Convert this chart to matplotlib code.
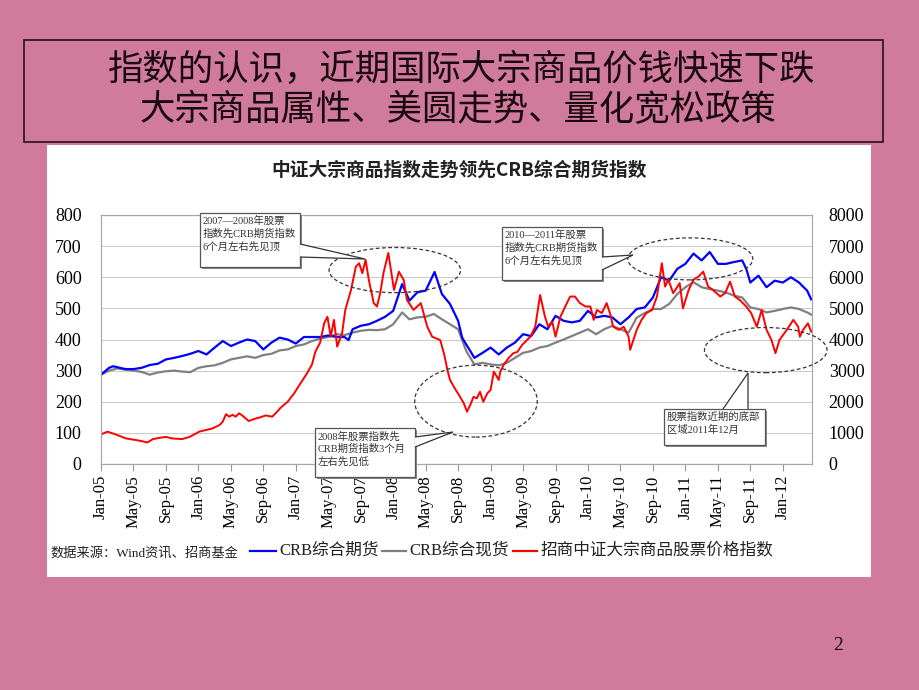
import matplotlib.pyplot as plt
from matplotlib.patches import Rectangle, Ellipse, Polygon
from matplotlib.lines import Line2D

plt.rcParams['font.family'] = ['Liberation Serif', 'Noto Sans CJK SC']

PINK = '#d07a9c'

# month index (0 = Jan-05)
blue_m = [0, 1, 1.5, 2, 3, 4, 5, 6, 7, 8, 9, 10, 11, 12, 13, 14, 15, 16, 17, 18, 19, 20, 21, 22,
          23, 24, 25, 26, 27, 28, 29, 30, 30.5, 31, 32, 33, 34, 35, 36, 37.1, 38, 39, 40, 41.1, 42,
          43, 44, 44.5, 45, 45.5, 46, 47, 48, 49, 50, 51, 52, 53, 54, 55, 56, 57, 58, 59, 60, 61,
          62, 63, 64, 65, 66, 67, 68, 69, 70, 71, 72, 73, 74, 75, 76, 77, 78, 79, 79.5, 80, 81, 82,
          83, 84, 85, 86, 87, 87.5]
blue_v = [287, 309, 314, 311, 305, 305, 309, 318, 322, 336, 341, 347, 354, 363, 352, 374, 395, 379,
          390, 400, 395, 368, 390, 406, 400, 387, 408, 408, 408, 413, 408, 408, 398, 433, 444, 449,
          460, 473, 492, 578, 525, 552, 557, 617, 546, 514, 460, 406, 384, 363, 341, 357, 374, 352,
          374, 390, 417, 411, 449, 433, 476, 460, 455, 460, 492, 471, 476, 471, 449, 471, 498, 503,
          535, 600, 589, 627, 643, 676, 654, 681, 643, 643, 649, 654, 627, 583, 605, 568, 589, 583,
          600, 583, 557, 529]

grey_m = [0, 1, 2, 3, 4, 5, 6, 7, 8, 9, 10, 11, 12, 13, 14, 15, 16, 17, 18, 19, 20, 21, 22, 23,
          24, 25, 26, 27, 28, 29, 30, 31, 32, 33, 34, 35, 36, 37.1, 38, 39, 40, 41, 42, 43, 44, 45,
          46, 47, 48, 49, 50, 51, 52, 53, 54, 55, 56, 57, 58, 59, 60, 61, 62, 63, 64, 65, 66, 67,
          68, 69, 70, 71, 72, 73, 74, 75, 76, 77, 78, 79, 80, 81, 82, 83, 84, 85, 86, 87, 87.5]
grey_v = [287, 300, 307, 303, 300, 296, 287, 294, 298, 300, 297, 295, 309, 314, 317, 325, 336, 341,
          346, 341, 350, 354, 365, 368, 379, 384, 395, 403, 408, 417, 414, 422, 428, 431, 430, 433,
          449, 487, 465, 471, 473, 482, 465, 449, 433, 363, 320, 325, 320, 317, 325, 341, 357, 363,
          374, 379, 390, 400, 411, 422, 433, 417, 433, 444, 433, 422, 470, 485, 498, 498, 514, 546,
          568, 584, 568, 562, 557, 551, 541, 535, 503, 498, 487, 492, 498, 503, 498, 487, 480]

red_m = [0, 0.8, 1.8, 3.1, 4.3, 5.1, 5.7, 6.4, 7.2, 8.0, 8.8, 10.0, 10.9, 11.7, 12.1, 12.9, 13.7,
         14.6, 15.0, 15.4, 15.8, 16.2, 16.6, 17.0, 17.4, 17.8, 18.2, 18.9, 19.5, 20.3, 21.1, 21.7,
         22.1, 23.0, 23.8, 24.6, 25.4, 26.0, 26.4, 27.0, 27.5, 27.9, 28.3, 28.7, 29.1, 29.7, 30.1,
         30.8, 31.4, 31.8, 32.2, 32.6, 33.0, 33.6, 34.0, 34.4, 34.8, 35.4, 36.1, 36.7, 37.3, 37.7,
         38.5, 39.4, 40.2, 40.8, 41.8, 42.3, 42.7, 43.0, 43.7, 44.1, 44.7, 45.1, 45.5, 45.9, 46.3,
         46.7, 47.1, 47.6, 48.0, 48.4, 49.0, 49.2, 49.6, 50.2, 50.8, 51.3, 51.9, 52.9, 53.5, 54.1,
         54.7, 55.1, 55.6, 56.0, 56.6, 57.2, 57.8, 58.4, 59.0, 59.7, 60.3, 60.7, 61.1, 61.7, 62.3,
         62.7, 63.1, 63.8, 64.4, 65.0, 65.2, 65.6, 66.0, 66.6, 67.2, 67.9, 68.5, 69.1, 69.5, 69.9,
         70.5, 71.3, 71.7, 72.4, 73.0, 73.6, 74.2, 74.8, 75.4, 76.3, 76.9, 77.5, 78.1, 78.7, 79.5,
         80.1, 80.8, 81.4, 82.0, 82.6, 83.1, 83.6, 84.5, 85.3, 85.9, 86.1, 86.5, 87.1, 87.5]
red_v = [950, 1040, 950, 820, 770, 730, 690, 800, 840, 870, 820, 800, 870, 980, 1040, 1090, 1140,
         1250, 1360, 1600, 1520, 1580, 1520, 1630, 1560, 1470, 1380, 1450, 1490, 1560, 1520, 1680,
         1800, 2000, 2270, 2600, 2920, 3200, 3600, 3900, 4530, 4730, 4090, 4630, 3770, 4200, 4950,
         5590, 6340, 6450, 6130, 6560, 5910, 5170, 5060, 5490, 6130, 6780, 5590, 6180, 5910, 5270,
         4950, 5170, 4410, 4090, 3980, 3500, 3000, 2700, 2380, 2220, 1950, 1680, 1900, 2160, 2110,
         2320, 2000, 2270, 2380, 2970, 2700, 2970, 3180, 3400, 3560, 3600, 3830, 4090, 4410, 5430,
         4730, 4410, 4570, 4090, 4730, 5060, 5380, 5380, 5170, 5060, 5060, 4630, 4950, 4850, 5170,
         4850, 4410, 4310, 4410, 4090, 3670, 3990, 4310, 4630, 4850, 4950, 5380, 6450, 5700, 5920,
         5490, 5810, 5000, 5590, 5920, 6020, 6180, 5700, 5590, 5380, 5490, 5860, 5380, 5270, 5060,
         4850, 4410, 4950, 4310, 3990, 3560, 3990, 4310, 4630, 4410, 4090, 4310, 4520, 4250]

tick_months = list(range(0, 85, 4))
tick_labels = ['Jan-05', 'May-05', 'Sep-05', 'Jan-06', 'May-06', 'Sep-06', 'Jan-07', 'May-07',
               'Sep-07', 'Jan-08', 'May-08', 'Sep-08', 'Jan-09', 'May-09', 'Sep-09', 'Jan-10',
               'May-10', 'Sep-10', 'Jan-11', 'May-11', 'Sep-11', 'Jan-12']

slide_title = ['指数的认识，近期国际大宗商品价钱快速下跌', '大宗商品属性、美圆走势、量化宽松政策']
chart_title = '中证大宗商品指数走势领先CRB综合期货指数'
series_names = ['CRB综合期货', 'CRB综合现货', '招商中证大宗商品股票价格指数']
source_text = '数据来源：Wind资讯、招商基金'

notes = ['2007—2008年股票\n指数先CRB期货指数\n6个月左右先见顶',
         '2010—2011年股票\n指数先CRB期货指数\n6个月左右先见顶',
         '2008年股票指数先\nCRB期货指数3个月\n左右先见低',
         '股票指数近期的底部\n区域2011年12月']

fig = plt.figure(figsize=(9.2, 6.9), dpi=100, facecolor=PINK)

# slide background, pixel coordinates
bg = fig.add_axes([0, 0, 1, 1], zorder=0)
bg.set_xlim(0, 920)
bg.set_ylim(690, 0)
bg.axis('off')
bg.add_patch(Rectangle((24, 40), 859, 102, fc=PINK, ec='#2a1020', lw=1.2))
bg.add_patch(Rectangle((47, 145), 824, 432, fc='white', ec='none'))
bg.text(462, 70, slide_title[0], fontsize=25.5, ha='center', va='center',
        family=['Noto Sans CJK SC'], color='#1a0a10')
bg.text(458, 110, slide_title[1], fontsize=25.5, ha='center', va='center',
        family=['Noto Sans CJK SC'], color='#1a0a10')
bg.text(459, 170, chart_title, fontsize=13.5, ha='center', va='center',
        family=['Noto Sans CJK SC'], weight='bold', color='#222222')
bg.text(838, 645, '2', fontsize=14, ha='center', va='center', color='#1a0a10')

# main plot
ax = fig.add_axes([101 / 920, 1 - 464 / 690, 711 / 920, 249 / 690], zorder=1)
ax.plot(blue_m, blue_v, color='#0000ff', lw=1.6, zorder=3)
ax.plot(grey_m, grey_v, color='#808080', lw=1.6, zorder=2)
ax.set_xlim(0, 87.6)
ax.set_ylim(0, 800)
ax.set_yticks(range(0, 801, 100))
ax.set_xticks(tick_months)
ax.set_xticklabels(tick_labels, rotation=90, fontsize=12)
ax.yaxis.grid(True, color='#cccccc', lw=0.8)
ax.set_axisbelow(True)
ax.tick_params(axis='y', length=0, pad=14, labelsize=13)
ax.tick_params(axis='x', length=5, direction='out', color='#999999', pad=3)
for s in ax.spines.values():
    s.set_color('#a8a8a8')

ax2 = ax.twinx()
ax2.plot(red_m, red_v, color='#ff0000', lw=1.4)
ax2.set_ylim(0, 8000)
ax2.set_yticks(range(0, 8001, 1000))
ax2.tick_params(axis='y', length=0, pad=12, labelsize=13)
for s in ax2.spines.values():
    s.set_color('#a8a8a8')

# dashed ellipses around the turning points
for c, w, h in [((36.2, 623), 16.2, 145), ((72.6, 659), 15.4, 135),
                ((46.2, 202), 15.1, 231), ((81.9, 366), 15.1, 145)]:
    ax2.add_patch(Ellipse((c[0], c[1] * 10), w, h * 10, fill=False, ec='#333333', lw=0.9,
                          ls=(0, (3, 2)), clip_on=False, zorder=5))

# callout boxes in pixel coordinates
ov = fig.add_axes([0, 0, 1, 1], zorder=5)
ov.set_xlim(0, 920)
ov.set_ylim(690, 0)
ov.axis('off')

boxes = [(200, 213, 100, 54), (502, 227, 100, 53), (315, 428, 100, 49), (664, 409, 101, 36)]
wedges = [[(300, 244), (365, 259), (300, 257)],
          [(602, 257), (633, 255), (602, 270)],
          [(415, 437), (453, 432), (415, 447)],
          [(723, 409), (748, 373), (748, 409)]]
for (x, y, w, h), txt, wd in zip(boxes, notes, wedges):
    ov.add_patch(Rectangle((x + 2, y + 2), w, h, fc='#8a8a8a', ec='none'))
    ov.add_patch(Rectangle((x, y), w, h, fc='white', ec='#555555', lw=0.9))
    ov.add_patch(Polygon(wd, closed=False, fc='white', ec='#333333', lw=0.9))
    ov.text(x + 3, y + 3, txt, fontsize=7.5, va='top', ha='left', color='#333333',
            linespacing=1.3)

# legend row
ov.text(50, 553, source_text, fontsize=9.5, va='center', ha='left', color='#222222')
leg_x = [(250, 276, 279), (382, 406, 409), (513, 537, 541)]
for (x0, x1, tx), col, name in zip(leg_x, ['#0000ff', '#808080', '#ff0000'], series_names):
    ov.add_line(Line2D([x0, x1], [551, 551], color=col, lw=1.6))
    ov.text(tx, 551, name, fontsize=12, va='center', ha='left', color='#222222')

fig.savefig('out.png', dpi=100, facecolor=fig.get_facecolor())
